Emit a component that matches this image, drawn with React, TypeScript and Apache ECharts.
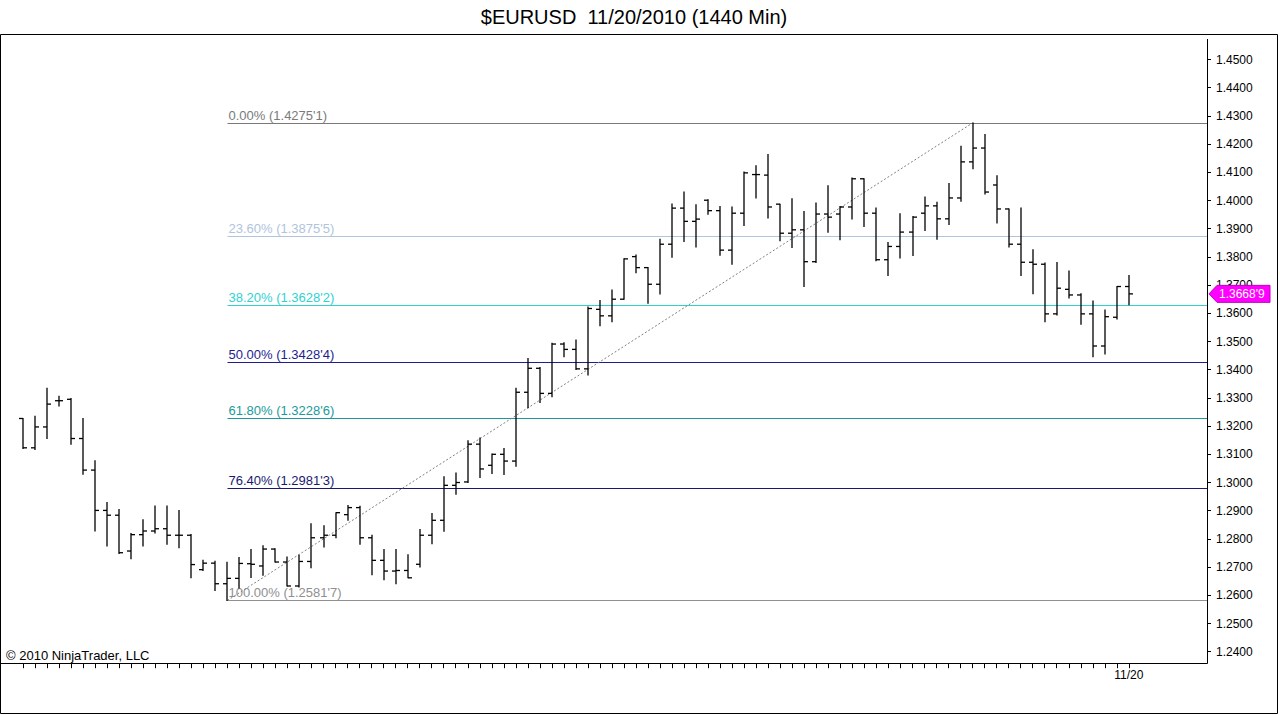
import React, { useEffect, useRef } from "react";
import * as echarts from "echarts";

// ---- Data ----
const barOpen = [
  1.3227, 1.3123, 1.3197, 1.3290, 1.3295, 1.3156, 1.3044, 1.2901, 1.2884, 1.2757,
  1.2815, 1.2828, 1.2836, 1.2813, 1.2813, 1.2691, 1.2714, 1.2641, 1.2660, 1.2712,
  1.2704, 1.2764, 1.2718, 1.2633, 1.2720, 1.2804, 1.2813, 1.2886, 1.2911, 1.2804,
  1.2724, 1.2686, 1.2688, 1.2710, 1.2813, 1.2866, 1.2990, 1.3002, 1.3136, 1.3061,
  1.3100, 1.3076, 1.3320, 1.3405, 1.3316, 1.3491, 1.3472, 1.3403, 1.3614, 1.3591,
  1.3650, 1.3801, 1.3762, 1.3703, 1.3845, 1.3973, 1.3926, 1.4001, 1.3964, 1.3824,
  1.3955, 1.4092, 1.4090, 1.3987, 1.3884, 1.3896, 1.3783, 1.3952, 1.3952, 1.3977,
  1.4077, 1.3955, 1.3790, 1.3837, 1.3888, 1.3955, 1.3981, 1.3935, 1.4009, 1.4137,
  1.4186, 1.4055, 1.3970, 1.3845, 1.3781, 1.3774, 1.3598, 1.3685, 1.3665, 1.3598,
  1.3484, 1.3586, 1.3695,
];
const barHigh = [
  1.3227, 1.3235, 1.3334, 1.3306, 1.3298, 1.3227, 1.3077, 1.2929, 1.2904, 1.2819,
  1.2868, 1.2917, 1.2917, 1.2901, 1.2816, 1.2724, 1.2721, 1.2717, 1.2734, 1.2762,
  1.2776, 1.2765, 1.2736, 1.2742, 1.2854, 1.2847, 1.2893, 1.2918, 1.2916, 1.2813,
  1.2762, 1.2762, 1.2744, 1.2833, 1.2890, 1.3020, 1.3034, 1.3148, 1.3158, 1.3101,
  1.3121, 1.3334, 1.3440, 1.3408, 1.3494, 1.3496, 1.3505, 1.3622, 1.3645, 1.3683,
  1.3793, 1.3807, 1.3762, 1.3863, 1.3988, 1.4030, 1.3985, 1.4003, 1.3979, 1.3977,
  1.4101, 1.4123, 1.4163, 1.3987, 1.4006, 1.3961, 1.3991, 1.4052, 1.3979, 1.4080,
  1.4077, 1.3973, 1.3851, 1.3953, 1.3943, 1.4012, 1.3994, 1.4060, 1.4192, 1.42751,
  1.4234, 1.4088, 1.3970, 1.3973, 1.3825, 1.3778, 1.3780, 1.3750, 1.3669, 1.3644,
  1.3612, 1.3695, 1.3734,
];
const barLow = [
  1.3121, 1.3117, 1.3156, 1.3271, 1.3136, 1.3029, 1.2828, 1.2775, 1.2748, 1.2730,
  1.2775, 1.2821, 1.2781, 1.2769, 1.2662, 1.2688, 1.2617, 1.25817, 1.2626, 1.2663,
  1.2671, 1.2718, 1.2633, 1.2629, 1.2698, 1.2771, 1.2804, 1.2866, 1.2781, 1.2673,
  1.2655, 1.2641, 1.2662, 1.2700, 1.2783, 1.2827, 1.2958, 1.3000, 1.3018, 1.3032,
  1.3028, 1.3058, 1.3265, 1.3284, 1.3304, 1.3446, 1.3401, 1.3381, 1.3556, 1.3570,
  1.3650, 1.3744, 1.3636, 1.3668, 1.3799, 1.3855, 1.3835, 1.3951, 1.3806, 1.3774,
  1.3911, 1.4009, 1.3938, 1.3857, 1.3833, 1.3695, 1.3780, 1.3887, 1.3861, 1.3934,
  1.3908, 1.3786, 1.3734, 1.3796, 1.3805, 1.3894, 1.3863, 1.3915, 1.3997, 1.4113,
  1.4023, 1.3920, 1.3835, 1.3734, 1.3669, 1.3570, 1.3594, 1.3654, 1.3561, 1.3446,
  1.3456, 1.3580, 1.3630,
];
const barClose = [
  1.3123, 1.3197, 1.3278, 1.3290, 1.3156, 1.3044, 1.2901, 1.2884, 1.2751, 1.2815,
  1.2828, 1.2836, 1.2813, 1.2813, 1.2709, 1.2714, 1.2641, 1.2660, 1.2713, 1.2710,
  1.2764, 1.2718, 1.2633, 1.2720, 1.2804, 1.2813, 1.2893, 1.2911, 1.2804, 1.2724,
  1.2686, 1.2688, 1.2662, 1.2813, 1.2866, 1.2990, 1.3000, 1.3136, 1.3048, 1.3100,
  1.3076, 1.3320, 1.3405, 1.3316, 1.3491, 1.3472, 1.3403, 1.3617, 1.3591, 1.3650,
  1.3793, 1.3762, 1.3703, 1.3845, 1.3973, 1.3926, 1.3934, 1.3964, 1.3824, 1.3955,
  1.4098, 1.4092, 1.3977, 1.3884, 1.3896, 1.3783, 1.3952, 1.3941, 1.3977, 1.4077,
  1.3955, 1.3790, 1.3837, 1.3888, 1.3941, 1.3981, 1.3935, 1.4009, 1.4137, 1.4186,
  1.4030, 1.3970, 1.3845, 1.3781, 1.3774, 1.3598, 1.3689, 1.3665, 1.3598, 1.3484,
  1.3588, 1.3695, 1.36689,
];

// Fibonacci retracement (swing low bar 17 -> swing high bar 79)
const fibStartIndex = 17;
const fibEndIndex = 79;
const fibPercents = ["0.00%", "23.60%", "38.20%", "50.00%", "61.80%", "76.40%", "100.00%"];
const fibValues = [1.42751, 1.38755, 1.36282, 1.34284, 1.32286, 1.29813, 1.25817];
const fibColors = ["#7a7a7a", "#b0c4de", "#30d2d0", "#1e1e8e", "#1a9a9a", "#191970", "#909090"];

// Axes
const yTickMin = 1.24;
const yTickMax = 1.45;
const yTickStep = 0.01;
const emptySlots = 6; // blank space right of the last bar
const xTickLabels: Record<number, string> = { 92: "11/20" };

const titleText = "$EURUSD  11/20/2010 (1440 Min)";
const copyrightText = "\u00a9 2010 NinjaTrader, LLC";

const FONT = '"Liberation Sans", Arial, sans-serif';

function fmtPrice(v: number): string {
  const s = v.toFixed(5);
  return s.slice(0, 6) + "'" + s.slice(6);
}

export default function App() {
  const ref = useRef<HTMLDivElement>(null);

  useEffect(() => {
    document.body.style.margin = "0";
    if (!ref.current) return;
    const chart = echarts.init(ref.current, undefined, { renderer: "svg" });

    const barCount = barOpen.length;
    const categories = Array.from({ length: barCount + emptySlots }, (_, i) => String(i));
    const ohlc = barOpen.map((o, i) => [i, o, barHigh[i], barLow[i], barClose[i]]);
    const fibData = fibValues.map((v, k) => [fibStartIndex, v, k]);

    const barStyle = { stroke: "#000", lineWidth: 1.3 };

    chart.setOption({
      animation: false,
      backgroundColor: "#fff",
      grid: { left: 17, right: 73, top: 59.5, bottom: 63.3, containLabel: false },
      xAxis: {
        type: "category",
        data: categories,
        boundaryGap: true,
        offset: 11.5,
        axisLine: { show: false },
        axisTick: {
          show: true,
          alignWithLabel: true,
          interval: (i: number) => i < barCount,
          length: 5,
          lineStyle: { color: "#000", width: 1 },
        },
        axisLabel: {
          interval: (i: number) => xTickLabels[i] !== undefined,
          formatter: (_v: string, i: number) => xTickLabels[i] ?? "",
          margin: 6,
          fontSize: 12,
          fontFamily: FONT,
          color: "#000",
        },
        splitLine: { show: false },
      },
      yAxis: {
        type: "value",
        position: "right",
        min: yTickMin,
        max: yTickMax,
        interval: yTickStep,
        axisLine: { show: false },
        axisTick: { show: true, length: 4, lineStyle: { color: "#000", width: 1 } },
        axisLabel: {
          formatter: (v: number) => v.toFixed(4),
          margin: 9,
          fontSize: 12,
          fontFamily: FONT,
          color: "#000",
        },
        splitLine: { show: false },
      },
      series: [
        {
          type: "custom",
          name: "fib",
          data: fibData,
          encode: { x: 0, y: 1 },
          z: 1,
          clip: false,
          renderItem: (params: any, api: any) => {
            const k = api.value(2);
            const p = api.coord([api.value(0), api.value(1)]);
            const cs = params.coordSys;
            const x0 = Math.round(p[0]) + 0.5;
            const y0 = Math.round(p[1]) + 0.5;
            const color = fibColors[k];
            return {
              type: "group",
              children: [
                {
                  type: "line",
                  shape: { x1: x0, y1: y0, x2: cs.x + cs.width, y2: y0 },
                  style: { stroke: color, lineWidth: 1 },
                },
                {
                  type: "text",
                  x: x0 + 1,
                  y: y0 - 2,
                  style: {
                    text: fibPercents[k] + " (" + fmtPrice(fibValues[k]) + ")",
                    fill: color,
                    fontSize: 13,
                    fontFamily: FONT,
                    textAlign: "left",
                    textVerticalAlign: "bottom",
                    align: "left",
                    verticalAlign: "bottom",
                  },
                },
              ],
            };
          },
        },
        {
          type: "line",
          name: "swing",
          data: [
            [fibStartIndex, barLow[fibStartIndex]],
            [fibEndIndex, barHigh[fibEndIndex]],
          ],
          symbol: "none",
          z: 2,
          lineStyle: { color: "#808080", width: 1, type: [2, 2] },
        },
        {
          type: "custom",
          name: "ohlc",
          data: ohlc,
          encode: { x: 0, y: [1, 2, 3, 4] },
          z: 3,
          renderItem: (_params: any, api: any) => {
            const i = api.value(0);
            const o = api.coord([i, api.value(1)]);
            const h = api.coord([i, api.value(2)]);
            const l = api.coord([i, api.value(3)]);
            const c = api.coord([i, api.value(4)]);
            const cx = Math.round(o[0]);
            return {
              type: "group",
              children: [
                { type: "line", shape: { x1: cx, y1: h[1] - 0.5, x2: cx, y2: l[1] + 0.5 }, style: barStyle },
                { type: "line", shape: { x1: cx - 4, y1: o[1], x2: cx, y2: o[1] }, style: barStyle },
                { type: "line", shape: { x1: cx, y1: c[1], x2: cx + 4, y2: c[1] }, style: barStyle },
              ],
            };
          },
        },
      ],
    });

    const lastClose = barClose[barClose.length - 1];
    const ty = chart.convertToPixel({ yAxisIndex: 0 }, lastClose) as number;

    chart.setOption({
      graphic: {
        elements: [
          {
            type: "rect",
            shape: { x: 0.5, y: 34.5, width: 1277, height: 679 },
            style: { fill: "none", stroke: "#000", lineWidth: 1 },
            silent: true,
          },
          {
            type: "line",
            shape: { x1: 0, y1: 663.5, x2: 1207.5, y2: 663.5 },
            style: { stroke: "#000", lineWidth: 1 },
          },
          {
            type: "line",
            shape: { x1: 1207.5, y1: 39, x2: 1207.5, y2: 663.5 },
            style: { stroke: "#000", lineWidth: 1 },
          },
          {
            type: "text",
            x: 634,
            y: 17,
            style: {
              text: titleText,
              fontSize: 20,
              fontFamily: FONT,
              fill: "#000",
              textAlign: "center",
              textVerticalAlign: "middle",
              align: "center",
              verticalAlign: "middle",
            },
          },
          {
            type: "text",
            x: 6,
            y: 655,
            style: {
              text: copyrightText,
              fontSize: 13,
              fontFamily: FONT,
              fill: "#000",
              textAlign: "left",
              textVerticalAlign: "middle",
              align: "left",
              verticalAlign: "middle",
            },
          },
          {
            type: "polygon",
            z: 100,
            shape: {
              points: [
                [1209, ty],
                [1217, ty - 8.5],
                [1270, ty - 8.5],
                [1270, ty + 8.5],
                [1217, ty + 8.5],
              ],
            },
            style: { fill: "#ff00ff", stroke: "#c000c0", lineWidth: 1 },
          },
          {
            type: "text",
            z: 101,
            x: 1219,
            y: ty,
            style: {
              text: fmtPrice(lastClose),
              fontSize: 12,
              fontFamily: FONT,
              fill: "#fff",
              textAlign: "left",
              textVerticalAlign: "middle",
              align: "left",
              verticalAlign: "middle",
            },
          },
        ],
      },
    });

    return () => chart.dispose();
  }, []);

  return <div ref={ref} style={{ width: 1280, height: 715 }} />;
}
